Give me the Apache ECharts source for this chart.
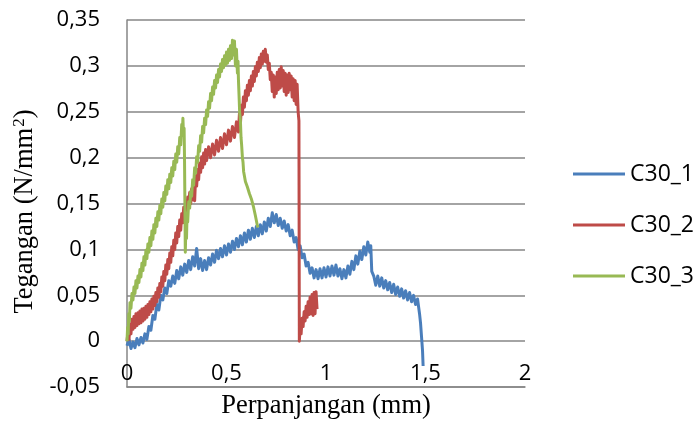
<!DOCTYPE html>
<html>
<head>
<meta charset="utf-8">
<style>
  html, body { margin: 0; padding: 0; background: #ffffff; }
  #chart { width: 699px; height: 425px; }
</style>
<script src="https://cdn.jsdelivr.net/npm/echarts@6/dist/echarts.min.js"></script>
</head>
<body>
<div id="chart"></div>
<script>
// Stress–elongation readings for three C30 specimens: [perpanjangan (mm), tegangan (N/mm²)]
const seriesNames = ['C30_1', 'C30_2', 'C30_3'];
const xTicks = [0, 0.5, 1, 1.5, 2];
const yTicks = [-0.05, 0, 0.05, 0.1, 0.15, 0.2, 0.25, 0.3, 0.35];

const c30_1 = [
  [0.00,-0.005],[0.01,0.002],[0.02,-0.008],[0.03,-0.001],[0.04,-0.007],[0.05,0.003],[0.06,-0.004],[0.07,0.004],
  [0.08,-0.002],[0.09,0.008],[0.10,0.002],[0.11,0.016],[0.12,0.012],[0.13,0.028],[0.14,0.024],[0.15,0.040],
  [0.16,0.034],[0.17,0.050],[0.18,0.045],[0.19,0.058],[0.20,0.052],[0.21,0.066],[0.22,0.060],[0.23,0.071],
  [0.24,0.063],[0.25,0.077],[0.26,0.068],[0.27,0.081],[0.28,0.072],[0.29,0.084],[0.30,0.075],[0.31,0.088],
  [0.32,0.078],[0.33,0.092],[0.34,0.082],[0.35,0.101],[0.36,0.079],[0.37,0.090],[0.38,0.077],[0.39,0.088],
  [0.40,0.078],[0.41,0.091],[0.42,0.083],[0.43,0.095],[0.44,0.086],[0.45,0.099],[0.46,0.090],[0.47,0.101],
  [0.48,0.092],[0.49,0.104],[0.50,0.094],[0.51,0.106],[0.52,0.097],[0.53,0.109],[0.54,0.100],[0.55,0.112],
  [0.56,0.103],[0.57,0.115],[0.58,0.105],[0.59,0.118],[0.60,0.108],[0.61,0.121],[0.62,0.111],[0.63,0.123],
  [0.64,0.113],[0.65,0.125],[0.66,0.115],[0.67,0.127],[0.68,0.117],[0.69,0.130],[0.70,0.120],[0.71,0.134],
  [0.72,0.125],[0.73,0.140],[0.74,0.129],[0.75,0.138],[0.76,0.126],[0.77,0.134],[0.78,0.123],[0.79,0.131],
  [0.80,0.120],[0.81,0.127],[0.82,0.115],[0.83,0.121],[0.84,0.108],[0.85,0.113],[0.86,0.100],[0.87,0.104],
  [0.88,0.091],[0.89,0.095],[0.90,0.082],[0.91,0.086],[0.92,0.074],[0.93,0.080],[0.94,0.069],[0.95,0.078],
  [0.96,0.068],[0.97,0.079],[0.98,0.069],[0.99,0.080],[1.00,0.070],[1.01,0.081],[1.02,0.071],[1.03,0.082],
  [1.04,0.072],[1.05,0.083],[1.06,0.071],[1.07,0.079],[1.08,0.068],[1.09,0.078],[1.10,0.069],[1.11,0.082],
  [1.12,0.073],[1.13,0.087],[1.14,0.078],[1.15,0.093],[1.16,0.084],[1.17,0.098],[1.18,0.089],[1.19,0.103],
  [1.20,0.094],[1.21,0.108],[1.22,0.097],[1.225,0.104],[1.23,0.076],[1.24,0.071],[1.25,0.061],[1.26,0.071],
  [1.27,0.060],[1.28,0.069],[1.29,0.058],[1.30,0.066],[1.31,0.056],[1.32,0.064],[1.33,0.053],[1.34,0.062],
  [1.35,0.051],[1.36,0.059],[1.37,0.049],[1.38,0.057],[1.39,0.047],[1.40,0.055],[1.41,0.045],[1.42,0.053],
  [1.43,0.043],[1.44,0.050],[1.45,0.040],[1.46,0.046],[1.47,0.030],[1.475,0.020],[1.48,0.005],[1.485,-0.010],
  [1.488,-0.027]
];

const c30_2 = [
  [0.000,0.000],[0.005,0.010],[0.010,0.002],[0.015,0.018],[0.020,0.008],[0.025,0.024],[0.030,0.013],[0.035,0.027],
  [0.040,0.015],[0.045,0.030],[0.050,0.017],[0.055,0.031],[0.060,0.019],[0.065,0.033],[0.070,0.020],[0.075,0.035],
  [0.080,0.022],[0.085,0.036],[0.090,0.024],[0.095,0.038],[0.100,0.026],[0.105,0.040],[0.110,0.029],[0.115,0.043],
  [0.120,0.032],[0.125,0.046],[0.130,0.035],[0.135,0.049],[0.140,0.039],[0.145,0.053],[0.150,0.043],[0.155,0.058],
  [0.160,0.048],[0.165,0.063],[0.170,0.054],[0.175,0.070],[0.180,0.060],[0.185,0.076],[0.190,0.066],[0.195,0.083],
  [0.200,0.073],[0.205,0.089],[0.210,0.079],[0.215,0.096],[0.220,0.086],[0.225,0.103],[0.230,0.093],[0.235,0.110],
  [0.240,0.100],[0.245,0.118],[0.250,0.107],[0.255,0.125],[0.260,0.114],[0.265,0.132],[0.270,0.121],[0.275,0.139],
  [0.280,0.129],[0.285,0.146],[0.290,0.136],[0.295,0.152],[0.300,0.141],[0.305,0.157],[0.310,0.146],[0.315,0.162],
  [0.320,0.150],[0.325,0.166],[0.330,0.154],[0.335,0.170],[0.340,0.153],[0.345,0.180],[0.350,0.169],[0.355,0.187],
  [0.360,0.176],[0.365,0.194],[0.370,0.184],[0.375,0.201],[0.380,0.189],[0.385,0.205],[0.390,0.193],[0.395,0.209],
  [0.400,0.197],[0.410,0.212],[0.420,0.200],[0.430,0.215],[0.440,0.203],[0.450,0.219],[0.460,0.207],[0.470,0.222],
  [0.480,0.210],[0.490,0.226],[0.500,0.214],[0.510,0.230],[0.520,0.218],[0.530,0.234],[0.540,0.222],[0.550,0.239],
  [0.560,0.228],[0.565,0.248],[0.570,0.237],[0.575,0.257],[0.580,0.247],[0.585,0.266],[0.590,0.255],[0.595,0.273],
  [0.600,0.262],[0.605,0.279],[0.610,0.268],[0.615,0.284],[0.620,0.273],[0.625,0.289],[0.630,0.278],[0.635,0.294],
  [0.640,0.283],[0.645,0.299],[0.650,0.289],[0.655,0.304],[0.660,0.294],[0.665,0.309],[0.670,0.298],[0.675,0.313],
  [0.680,0.302],[0.685,0.316],[0.690,0.305],[0.695,0.318],[0.700,0.304],[0.705,0.312],[0.710,0.296],[0.715,0.303],
  [0.720,0.285],[0.725,0.293],[0.730,0.272],[0.735,0.290],[0.740,0.266],[0.745,0.288],[0.750,0.270],[0.755,0.293],
  [0.760,0.274],[0.765,0.296],[0.770,0.276],[0.775,0.299],[0.780,0.278],[0.785,0.295],[0.790,0.272],[0.795,0.292],
  [0.800,0.268],[0.805,0.290],[0.810,0.271],[0.815,0.292],[0.820,0.274],[0.825,0.289],[0.830,0.266],[0.835,0.286],
  [0.840,0.262],[0.845,0.284],[0.850,0.258],[0.855,0.280],[0.860,0.250],[0.864,0.240],[0.866,0.000],[0.870,0.015],
  [0.875,0.008],[0.880,0.025],[0.885,0.016],[0.890,0.032],[0.895,0.022],[0.900,0.038],[0.905,0.026],[0.910,0.043],
  [0.915,0.029],[0.920,0.048],[0.925,0.030],[0.930,0.051],[0.935,0.028],[0.940,0.053],[0.945,0.030],[0.950,0.054],
  [0.955,0.035]
];

const c30_3 = [
  [0.000,0.000],[0.003,0.015],[0.006,0.008],[0.009,0.030],[0.012,0.022],[0.015,0.042],[0.020,0.036],[0.025,0.052],
  [0.030,0.045],[0.035,0.059],[0.040,0.052],[0.045,0.066],[0.050,0.058],[0.055,0.071],[0.060,0.064],[0.065,0.078],
  [0.070,0.070],[0.075,0.085],[0.080,0.077],[0.085,0.092],[0.090,0.083],[0.095,0.099],[0.100,0.090],[0.105,0.106],
  [0.110,0.097],[0.115,0.113],[0.120,0.104],[0.125,0.120],[0.130,0.111],[0.135,0.127],[0.140,0.118],[0.145,0.134],
  [0.150,0.125],[0.155,0.141],[0.160,0.132],[0.165,0.148],[0.170,0.139],[0.175,0.155],[0.180,0.146],[0.185,0.162],
  [0.190,0.153],[0.195,0.169],[0.200,0.160],[0.205,0.176],[0.210,0.166],[0.215,0.182],[0.220,0.173],[0.225,0.189],
  [0.230,0.180],[0.235,0.196],[0.240,0.187],[0.245,0.204],[0.250,0.195],[0.255,0.212],[0.260,0.204],[0.265,0.222],
  [0.270,0.214],[0.275,0.236],[0.278,0.226],[0.281,0.243],[0.284,0.224],[0.287,0.232],[0.289,0.200],[0.291,0.150],
  [0.293,0.097],[0.296,0.125],[0.299,0.112],[0.302,0.140],[0.305,0.130],[0.310,0.152],[0.315,0.145],[0.320,0.163],
  [0.325,0.158],[0.330,0.176],[0.335,0.170],[0.340,0.189],[0.345,0.183],[0.350,0.201],[0.355,0.195],[0.360,0.213],
  [0.365,0.207],[0.370,0.224],[0.375,0.217],[0.380,0.234],[0.385,0.227],[0.390,0.243],[0.395,0.236],[0.400,0.252],
  [0.405,0.245],[0.410,0.261],[0.415,0.254],[0.420,0.270],[0.425,0.262],[0.430,0.277],[0.435,0.269],[0.440,0.284],
  [0.445,0.276],[0.450,0.290],[0.455,0.282],[0.460,0.296],[0.465,0.288],[0.470,0.302],[0.475,0.294],[0.480,0.307],
  [0.485,0.298],[0.490,0.311],[0.495,0.301],[0.500,0.315],[0.505,0.303],[0.510,0.318],[0.515,0.306],[0.520,0.322],
  [0.525,0.308],[0.530,0.328],[0.535,0.312],[0.540,0.327],[0.545,0.300],[0.550,0.318],[0.555,0.292],[0.558,0.305],
  [0.560,0.285],[0.563,0.268],[0.566,0.250],[0.570,0.240],[0.573,0.222],[0.576,0.214],[0.580,0.200],[0.583,0.195],
  [0.586,0.185],[0.590,0.183],[0.595,0.174],[0.600,0.175],[0.605,0.168],[0.610,0.168],[0.615,0.161],[0.620,0.162],
  [0.625,0.155],[0.630,0.155],[0.635,0.147],[0.640,0.146],[0.645,0.137],[0.650,0.136],[0.655,0.126],[0.658,0.124]
];

const seriesData = [c30_1, c30_2, c30_3];
const seriesColors = ['#4A7EBB', '#BE4B48', '#98B954'];

// Decimal comma, as in the Indonesian labels
function commaNum(v) {
  return String(Math.round(v * 100) / 100).replace('.', ',');
}

const chart = echarts.init(document.getElementById('chart'), null, { renderer: 'canvas' });

const gridColor = '#868686';
const sansFont = '"Open Sans", "Liberation Sans", sans-serif';
const serifFont = '"Liberation Serif", "DejaVu Serif", serif';

chart.setOption({
  animation: false,
  backgroundColor: '#ffffff',
  color: seriesColors,
  grid: { left: 127, top: 20, right: 174, bottom: 37, containLabel: false },
  legend: {
    orient: 'vertical',
    left: 573,
    top: 161,
    padding: 0,
    itemWidth: 52,
    itemHeight: 3,
    itemGap: 25,
    icon: 'rect',
    data: seriesNames,
    textStyle: { fontFamily: sansFont, fontSize: 23, lineHeight: 26, color: '#000000' }
  },
  xAxis: {
    type: 'value',
    min: xTicks[0],
    max: xTicks[xTicks.length - 1],
    interval: 0.5,
    name: 'Perpanjangan (mm)',
    nameLocation: 'middle',
    nameGap: 5,
    nameTextStyle: { fontFamily: serifFont, fontSize: 26.5, color: '#000000' },
    axisLine: { show: true, onZero: false, lineStyle: { color: gridColor, width: 1.5 } },
    axisTick: { show: false },
    splitLine: { show: false },
    axisLabel: {
      inside: true,
      margin: 2,
      fontFamily: sansFont,
      fontSize: 22,
      color: '#000000',
      formatter: commaNum
    }
  },
  yAxis: {
    type: 'value',
    min: yTicks[0],
    max: yTicks[yTicks.length - 1],
    interval: 0.05,
    name: 'Tegangan (N/mm{sup|2})',
    nameLocation: 'middle',
    nameRotate: 90,
    nameGap: 86,
    nameTextStyle: {
      fontFamily: serifFont,
      fontSize: 26.5,
      color: '#000000',
      padding: [0, 16, 0, 0],
      rich: {
        sup: { fontFamily: serifFont, fontSize: 17, color: '#000000', padding: [0, 0, 12, 1] }
      }
    },
    axisLine: { show: true, lineStyle: { color: gridColor, width: 1.5 } },
    axisTick: { show: false },
    splitLine: { show: true, lineStyle: { color: gridColor, width: 1.5 } },
    axisLabel: {
      margin: 27,
      fontFamily: sansFont,
      fontSize: 22,
      color: '#000000',
      formatter: commaNum
    }
  },
  series: seriesNames.map((name, i) => ({
    name: name,
    type: 'line',
    data: seriesData[i],
    symbol: 'none',
    showSymbol: false,
    smooth: false,
    sampling: null,
    lineStyle: { color: seriesColors[i], width: 3, join: 'round' },
    itemStyle: { color: seriesColors[i] },
    emphasis: { disabled: true }
  }))
});
</script>
</body>
</html>
